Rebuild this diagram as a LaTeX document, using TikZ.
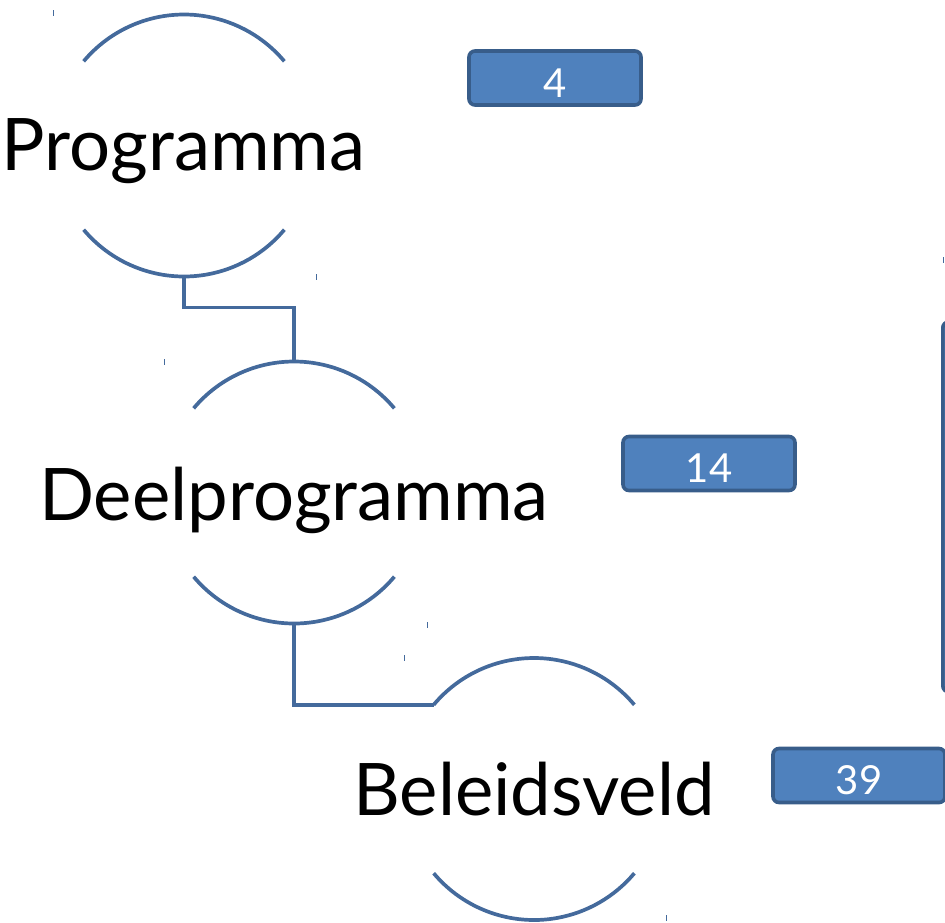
\documentclass[tikz,border=0pt]{standalone}
\usepackage{fontspec}
\setmainfont{Lato}
\definecolor{arcblue}{RGB}{68,106,156}
\definecolor{boxfill}{RGB}{79,129,189}
\definecolor{boxedge}{RGB}{56,93,138}
\begin{document}
\begin{tikzpicture}[x=1pt,y=1pt,
  ring/.style={circle,minimum size=262pt,inner sep=0pt,outer sep=0pt},
  arcline/.style={draw=arcblue,line width=3.7pt},
  conn/.style={draw=arcblue,line width=3.7pt},
  label/.style={anchor=base,font=\fontsize{72.5}{80}\selectfont,inner sep=0pt},
  numbox/.style={draw=boxedge,fill=boxfill,line width=3.6pt,rounded corners=6pt,
    minimum width=172pt,minimum height=54pt,inner sep=0pt},
  numtext/.style={anchor=base,text=white,font=\fontsize{40}{44}\selectfont,inner sep=0pt},
  tick/.style={draw=arcblue,line width=1pt}]
\useasboundingbox (0,0) rectangle (945,-922);
% circles (only top and bottom arcs shown)
\node[ring] (c1) at (184,-145.5) {};
\node[ring] (c2) at (294,-492.5) {};
\node[ring] (c3) at (534,-789) {};
\foreach \c in {c1,c2,c3}{
  \draw[arcline] (\c.140) arc[start angle=140,end angle=40,radius=131pt];
  \draw[arcline] (\c.220) arc[start angle=220,end angle=320,radius=131pt];
}
% labels
\node[label] (t1) at (183.5,-170) {Programma};
\node[label] (t2) at (294,-520) {Deelprogramma};
\node[label] (t3) at (534,-815) {Beleidsveld};
% connectors
\draw[conn] (c1.south) -- ++(0,-31) -| (c2.north);
\draw[conn] (c2.south) |- (c3.140);
% number boxes
\node[numbox] (b1) at (555,-78) {};
\node[numtext] (n1) at (b1.center) [yshift=-19pt] {4};
\node[numbox] (b2) at (709,-463.5) {};
\node[numtext] (n2) at (b2.center) [yshift=-19pt] {14};
\node[numbox] (b3) at (859,-775.5) {};
\node[numtext] (n3) at (b3.center) [yshift=-19pt] {39};
% large box at right edge (clipped)
\node[numbox,minimum width=80pt,minimum height=370pt,anchor=north west] (big) at (941,-320) {};
% small marks
\foreach \x/\y in {53/13,316/277,164/362,427/625,404/658,943/260,666/918}{
  \draw[tick] (\x,-\y+3) -- (\x,-\y-3);
}
\end{tikzpicture}
\end{document}
